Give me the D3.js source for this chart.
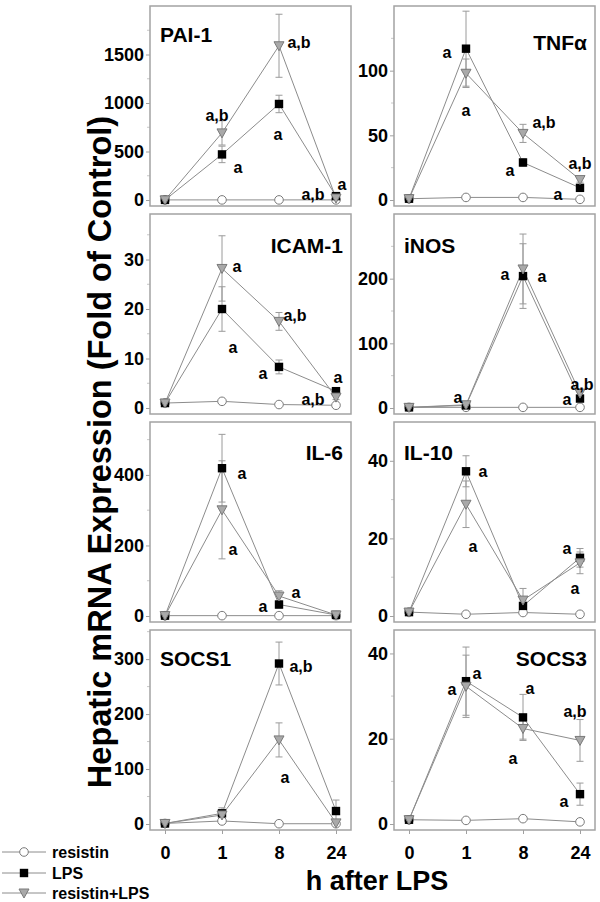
<!DOCTYPE html>
<html><head><meta charset="utf-8">
<script src="https://cdn.jsdelivr.net/npm/d3@7"></script>
<style>
html,body{margin:0;padding:0;background:#fff;}
svg{display:block;font-family:"Liberation Sans",Arial,Helvetica,sans-serif;font-weight:bold;}
</style></head>
<body>
<svg id="chart" width="600" height="902"></svg>
<script>
// ---------- data ----------
const times = ["0", "1", "8", "24"];
const panelNames = ["PAI-1", "TNFα", "ICAM-1", "iNOS", "IL-6", "IL-10", "SOCS1", "SOCS3"];
const seriesNames = ["resistin", "LPS", "resistin+LPS"];

const resistinMean = [
  [1, 1, 1, 1],
  [1, 2, 2, 0.5],
  [1, 1.35, 0.7, 0.55],
  [1, 1, 1, 1],
  [1, 1, 1, 1],
  [1, 0.45, 0.9, 0.45],
  [1, 5.5, 0.5, 0.5],
  [1, 0.85, 1.25, 0.5]
];
const lpsMean = [
  [1, 470, 990, 40],
  [1, 117, 29, 9.4],
  [1, 20, 8.3, 3.4],
  [1, 4, 204, 14.6],
  [1, 419, 32.5, 3],
  [1, 37.3, 2.6, 15],
  [1, 19.4, 292, 23.6],
  [1, 33.5, 25, 7]
];
const lpsErr = [
  [0, 85, 90, 10],
  [0, 29, 3, 2],
  [0, 4.5, 1.4, 0.6],
  [0, 2, 50, 4],
  [0, 96, 10, 1],
  [0, 4, 1.5, 2.4],
  [0, 10, 39, 20],
  [0, 8, 5.4, 2.6]
];
const rlpsMean = [
  [1, 692, 1590, 20],
  [1, 98, 51.5, 15.8],
  [1, 28.2, 17.5, 2.2],
  [1, 5, 215, 23],
  [1, 301, 56.6, 3],
  [1, 28.8, 4.1, 13.7],
  [1, 16.4, 153, 2],
  [1, 32.3, 22.4, 19.6]
];
const rlpsErr = [
  [0, 125, 325, 10],
  [0, 11, 7, 2],
  [0, 6.6, 1.8, 0.5],
  [0, 2, 54, 4],
  [0, 139, 15, 1],
  [0, 6, 3, 2.8],
  [0, 10, 31, 3],
  [0, 7.3, 2.5, 4.9]
];
const yTicks = [
  [0, 500, 1000, 1500],
  [0, 50, 100],
  [0, 10, 20, 30],
  [0, 100, 200],
  [0, 200, 400],
  [0, 20, 40],
  [0, 100, 200, 300],
  [0, 20, 40]
];
const yTop = [2000, 150, 39.2, 300, 550, 50, 353, 45.5];
const minorStep = [250, 25, 5, 50, 100, 10, 50, 10];
// significance labels: [panel, series, time index, text, dx, dy]
const annotations = [
  [0, 2, 1, "a,b", -5, -17], [0, 1, 1, "a", 16, 13], [0, 2, 2, "a,b", 20, -3], [0, 1, 2, "a", -1, 31],
  [0, 0, 3, "a,b", -23, -5], [0, 0, 3, "a", 6, -15],
  [1, 1, 1, "a", -19, 4], [1, 2, 1, "a", 0, 37], [1, 2, 2, "a,b", 21, -11], [1, 1, 2, "a", -13, 8],
  [1, 2, 3, "a,b", 0, -16], [1, 0, 3, "a", -22, -5],
  [2, 2, 1, "a", 15, -2], [2, 1, 1, "a", 11, 38], [2, 2, 2, "a,b", 16, -6], [2, 1, 2, "a", -16, 7],
  [2, 1, 3, "a", 2, -14], [2, 2, 3, "a,b", -23, 2],
  [3, 1, 2, "a", -18, -2], [3, 1, 2, "a", 19, 0], [3, 1, 1, "a", -8, -8], [3, 2, 3, "a,b", 2, -9],
  [3, 1, 3, "a", -13, 1],
  [4, 1, 1, "a", 20, 5], [4, 2, 1, "a", 11, 40], [4, 2, 2, "a", 17, -4], [4, 1, 2, "a", -16, 2],
  [5, 1, 1, "a", 17, 0], [5, 2, 1, "a", 7, 42], [5, 1, 3, "a", -13, -9], [5, 2, 3, "a", -5, 26],
  [6, 1, 2, "a,b", 22, 3], [6, 2, 2, "a", 6, 38],
  [7, 2, 1, "a", -14, 3], [7, 1, 1, "a", 11, -8], [7, 1, 2, "a", 7, -29], [7, 2, 2, "a", -10, 30],
  [7, 2, 3, "a,b", -5, -29], [7, 1, 3, "a", -16, 7]
];

// ---------- layout ----------
const svg = d3.select("#chart");
const colX = [150, 394];
const boxW = 201;
const rowTop = [6, 214, 422, 630];
const boxH = 200;
const titleSide = ["left", "right", "right", "left", "right", "left", "left", "right"];
const titleDy = [28, 36, 31, 31, 30, 30, 28, 28];

const means = [resistinMean, lpsMean, rlpsMean];
const errs = [null, lpsErr, rlpsErr];
const lineColor = "#8c8c8c";
const errColor = "#9a9a9a";

function drawMarker(g, s, x, y) {
  if (s === 0) {
    g.append("circle").attr("cx", x).attr("cy", y).attr("r", 4.3)
      .attr("fill", "#fff").attr("stroke", "#7a7a7a").attr("stroke-width", 1);
  } else if (s === 1) {
    g.append("rect").attr("x", x - 4.2).attr("y", y - 4.2).attr("width", 8.4).attr("height", 8.4)
      .attr("fill", "#000");
  } else {
    g.append("path").attr("d", `M${x - 5},${y - 4}L${x + 5},${y - 4}L${x},${y + 5}Z`)
      .attr("fill", "#a9a9a9").attr("stroke", "#7a7a7a").attr("stroke-width", 1);
  }
}

panelNames.forEach((name, p) => {
  const col = p % 2, row = Math.floor(p / 2);
  const x0 = colX[col], y0 = rowTop[row];
  const x = d3.scalePoint().domain(times).range([x0 + 15, x0 + boxW - 15]);
  const y = d3.scaleLinear().domain([0, yTop[p]]).range([y0 + boxH - 6, y0]);
  const g = svg.append("g");

  // minor ticks
  const minors = d3.range(minorStep[p], yTop[p], minorStep[p]).filter(v => !yTicks[p].includes(v));
  g.selectAll(".minor").data(minors).join("line")
    .attr("x1", x0 - 3).attr("x2", x0).attr("y1", d => y(d)).attr("y2", d => y(d))
    .attr("stroke", "#c8c8c8").attr("stroke-width", 1);

  // y axis
  const ax = d3.axisLeft(y).tickValues(yTicks[p]).tickSize(4).tickPadding(2).tickFormat(d3.format("d"));
  const axg = g.append("g").attr("transform", `translate(${x0},0)`).call(ax);
  axg.select(".domain").remove();
  axg.selectAll(".tick line").attr("stroke", "#a0a0a0");
  axg.selectAll(".tick text").attr("font-size", 18).attr("font-weight", "bold")
    .attr("font-family", "Liberation Sans, Arial, sans-serif").attr("fill", "#000");

  // x axis (bottom row only)
  if (row === 3) {
    const xa = d3.axisBottom(x).tickSize(4).tickPadding(12);
    const xg = g.append("g").attr("transform", `translate(0,${y0 + boxH})`).call(xa);
    xg.select(".domain").remove();
    xg.selectAll(".tick line").attr("stroke", "#a0a0a0");
    xg.selectAll(".tick text").attr("font-size", 18).attr("font-weight", "bold")
      .attr("font-family", "Liberation Sans, Arial, sans-serif").attr("fill", "#000");
  }

  // box
  g.append("rect").attr("x", x0).attr("y", y0).attr("width", boxW).attr("height", boxH)
    .attr("fill", "none").attr("stroke", "#a3a3a3").attr("stroke-width", 1.5);

  // series
  const line = d3.line().x((d, i) => x(times[i])).y(d => y(d));
  [0, 1, 2].forEach(s => {
    g.append("path").attr("d", line(means[s][p])).attr("fill", "none")
      .attr("stroke", lineColor).attr("stroke-width", 1);
  });
  [1, 2].forEach(s => {
    means[s][p].forEach((m, i) => {
      const e = errs[s][p][i];
      if (!e) return;
      const cx = x(times[i]);
      g.append("line").attr("x1", cx).attr("x2", cx).attr("y1", y(m - e)).attr("y2", y(m + e))
        .attr("stroke", errColor).attr("stroke-width", 1);
      [m - e, m + e].forEach(v => g.append("line").attr("x1", cx - 3.5).attr("x2", cx + 3.5)
        .attr("y1", y(v)).attr("y2", y(v)).attr("stroke", errColor).attr("stroke-width", 1));
    });
  });
  [0, 1, 2].forEach(s => {
    means[s][p].forEach((m, i) => drawMarker(g, s, x(times[i]), y(m)));
  });

  // title
  const left = titleSide[p] === "left";
  g.append("text").attr("x", left ? x0 + 10 : x0 + boxW - 8).attr("y", y0 + titleDy[p])
    .attr("text-anchor", left ? "start" : "end").attr("dominant-baseline", "central")
    .attr("font-size", 21).attr("fill", "#000").text(name);

  // annotations
  annotations.filter(a => a[0] === p).forEach(a => {
    const [, s, t, txt, dx, dy] = a;
    g.append("text").attr("x", x(times[t]) + dx).attr("y", y(means[s][p][t]) + dy)
      .attr("text-anchor", "middle").attr("dominant-baseline", "central")
      .attr("font-size", 16).attr("fill", "#000").text(txt);
  });
});

// axis titles
svg.append("text").attr("transform", "translate(111,452) rotate(-90)")
  .attr("text-anchor", "middle").attr("font-size", 32.5).attr("fill", "#000")
  .text("Hepatic mRNA Expression (Fold of Control)");
svg.append("text").attr("x", 377).attr("y", 890).attr("text-anchor", "middle")
  .attr("font-size", 27).attr("fill", "#000").text("h after LPS");

// legend
const legY = [852, 873, 893];
seriesNames.forEach((n, s) => {
  const g = svg.append("g");
  g.append("line").attr("x1", 2).attr("x2", 46).attr("y1", legY[s]).attr("y2", legY[s])
    .attr("stroke", lineColor).attr("stroke-width", 1);
  drawMarker(g, s, 24, legY[s]);
  g.append("text").attr("x", 52).attr("y", legY[s]).attr("dominant-baseline", "central")
    .attr("font-size", 16).attr("fill", "#000").text(n);
});
</script>
</body></html>
